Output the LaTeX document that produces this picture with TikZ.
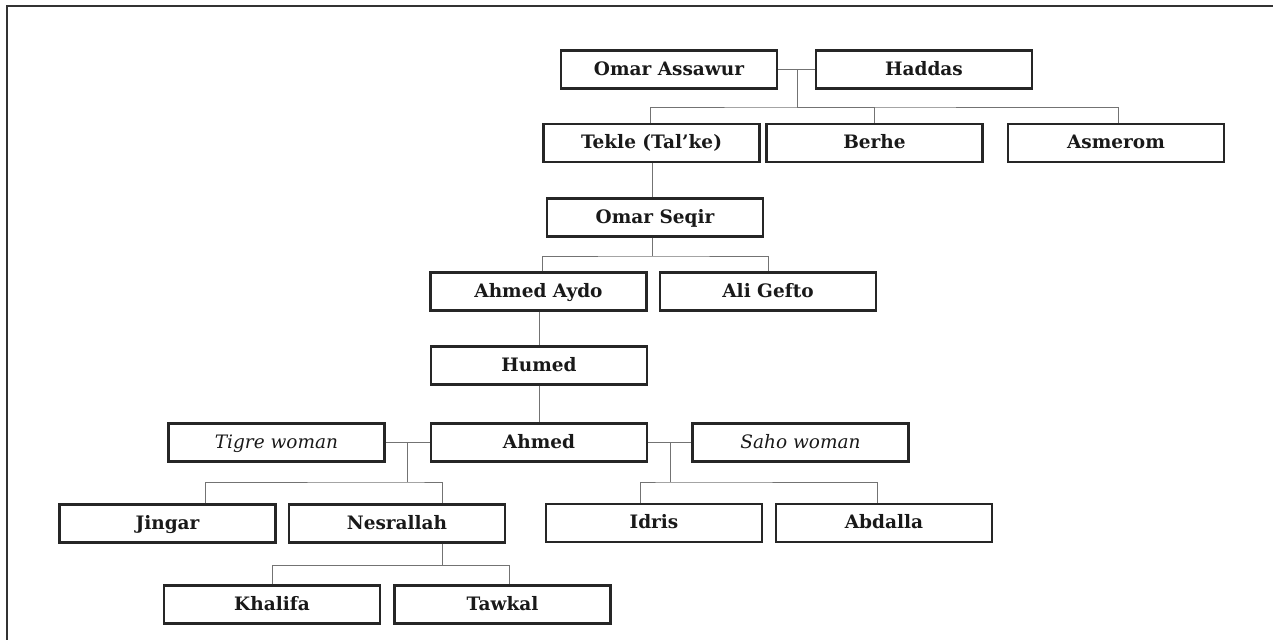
\documentclass[tikz,border=0pt]{standalone}
\usepackage{fontspec}
\setmainfont{DejaVu Serif}
\begin{document}
\begin{tikzpicture}[x=1pt,y=-1pt,
  person/.style={draw=black!85, line width=2.3pt, minimum width=216pt, minimum height=38pt,
    inner sep=0pt, text height=13.5pt, text depth=2.5pt,
    font=\fontsize{18.5}{21}\selectfont\bfseries, text=black!90},
  spouse/.style={person, font=\fontsize{18.5}{21}\selectfont\itshape\mdseries},
  link/.style={draw=black!55, line width=0.9pt}]
\useasboundingbox (0,0) rectangle (1273,640);
\draw[black!80, line width=2pt] (1273,6) -- (7,6) -- (7,640);
% nodes
\node[person] (oa) at (669,69.5) {Omar Assawur};
\node[person] (ha) at (924,69.5) {Haddas};
\node[person] (te) at (651.5,143) {Tekle (Tal'ke)};
\node[person] (be) at (874.5,143) {Berhe};
\node[person] (as) at (1116,143) {Asmerom};
\node[person] (os) at (655,217.5) {Omar Seqir};
\node[person] (aa) at (538.5,291.5) {Ahmed Aydo};
\node[person] (ag) at (768,291.5) {Ali Gefto};
\node[person] (hu) at (539,365.5) {Humed};
\node[spouse] (tw) at (276.5,442.5) {Tigre woman};
\node[person] (ah) at (539,442.5) {Ahmed};
\node[spouse] (sw) at (800.5,442.5) {Saho woman};
\node[person] (ji) at (167.5,523.5) {Jingar};
\node[person] (ne) at (397,523.5) {Nesrallah};
\node[person] (id) at (654,523) {Idris};
\node[person] (ab) at (884,523) {Abdalla};
\node[person] (kh) at (272,604.5) {Khalifa};
\node[person] (ta) at (502.5,604.5) {Tawkal};
% junction coordinates
\coordinate (j1) at (797,69.5);
\coordinate (b1) at (797,107);
\coordinate (b2) at (542,256);
\coordinate (j3) at (407,442.5);
\coordinate (b3) at (407,482);
\coordinate (j4) at (670,442.5);
\coordinate (b4) at (670,482);
\coordinate (b5) at (442,565);
% connectors
\draw[link] (oa.east) -- (ha.west);
\draw[link] (j1) -- (b1);
\draw[link] (te.north -| 650,0) |- (b1) -| (as.north -| 1118,0);
\draw[link] (b1) -| (be.north);
\draw[link] (te.south -| 652,0) -- (os.north -| 652,0);
\draw[link] (os.south -| 652,0) -- (652,256);
\draw[link] (aa.north -| b2) |- (652,256) -| (ag.north);
\draw[link] (aa.south -| 539,0) -- (hu.north -| 539,0);
\draw[link] (hu.south) -- (ah.north);
\draw[link] (tw.east) -- (ah.west);
\draw[link] (j3) -- (b3);
\draw[link] (ji.north -| 205,0) |- (b3) -| (ne.north -| 442,0);
\draw[link] (ah.east) -- (sw.west);
\draw[link] (j4) -- (b4);
\draw[link] (id.north -| 640,0) |- (b4) -| (ab.north -| 877,0);
\draw[link] (ne.south -| b5) -- (b5);
\draw[link] (kh.north) |- (b5) -| (ta.north -| 509,0);
\end{tikzpicture}
\end{document}
